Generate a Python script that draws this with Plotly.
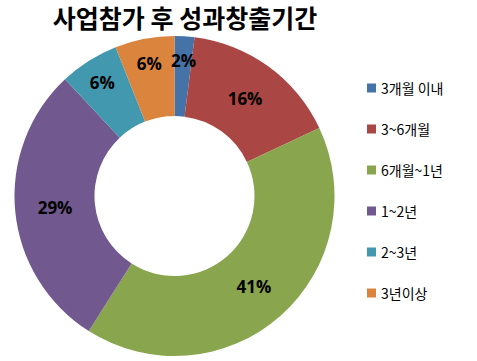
import math
import plotly.graph_objects as go

title = "사업참가 후 성과창출기간"
categories = ["3개월 이내", "3~6개월", "6개월~1년", "1~2년", "2~3년", "3년이상"]
values = [2, 16, 41, 29, 6, 6]
colors = ["#4572A7", "#AA4643", "#89A54E", "#71588F", "#4198AF", "#DB843D"]

W, H = 477, 361
cx, cy, r = 174.5, 196, 160
label_font = dict(family="Open Sans", size=17, color="black", weight="bold")

# slices too thin for Plotly's inside text get an annotation instead
small = [v < 4 for v in values]
texts = ["" if s else f"{v}%" for v, s in zip(values, small)]

fig = go.Figure()
fig.add_trace(go.Pie(
    labels=categories,
    values=values,
    text=texts,
    hole=0.5,
    sort=False,
    direction="clockwise",
    rotation=0,
    marker=dict(colors=colors, line=dict(width=0)),
    textinfo="text",
    textposition="inside",
    insidetextorientation="horizontal",
    textfont=label_font,
    showlegend=False,
    domain=dict(x=[(cx - r) / W, (cx + r) / W], y=[1 - (cy + r) / H, 1 - (cy - r) / H]),
))

total = sum(values)
cum = 0
for v, s in zip(values, small):
    mid = (cum + v / 2) / total
    cum += v
    if not s:
        continue
    ang = math.radians(90 - 360 * mid)
    rr = 0.85 * r
    px = cx + rr * math.cos(ang)
    py = cy - rr * math.sin(ang)
    fig.add_annotation(text=f"{v}%", xref="paper", yref="paper",
                       x=px / W, y=1 - py / H, showarrow=False,
                       xanchor="center", yanchor="middle", font=label_font)

# manual legend
leg_x, leg_y0, leg_step, sq = 367, 88, 41, 9
for i, (name, col) in enumerate(zip(categories, colors)):
    y = leg_y0 + i * leg_step
    fig.add_shape(type="rect", xref="paper", yref="paper",
                  x0=leg_x / W, x1=(leg_x + sq) / W,
                  y0=1 - (y + sq / 2) / H, y1=1 - (y - sq / 2) / H,
                  fillcolor=col, line=dict(width=0))
    fig.add_annotation(text=name, xref="paper", yref="paper",
                       x=(leg_x + sq + 3) / W, y=1 - y / H,
                       xanchor="left", yanchor="middle", showarrow=False,
                       font=dict(family="Noto Sans CJK KR", size=14, color="black"))

fig.update_layout(
    width=W, height=H,
    margin=dict(l=0, r=0, t=0, b=0),
    paper_bgcolor="white", plot_bgcolor="white",
    title=dict(text=title, x=185 / W, xanchor="center", y=1 - 19 / H, yanchor="middle",
               font=dict(family="Noto Sans CJK KR", size=25, color="black", weight="bold")),
)

fig.write_html("out.html", config={"displayModeBar": False},
               post_script="document.body.style.margin='0';")
